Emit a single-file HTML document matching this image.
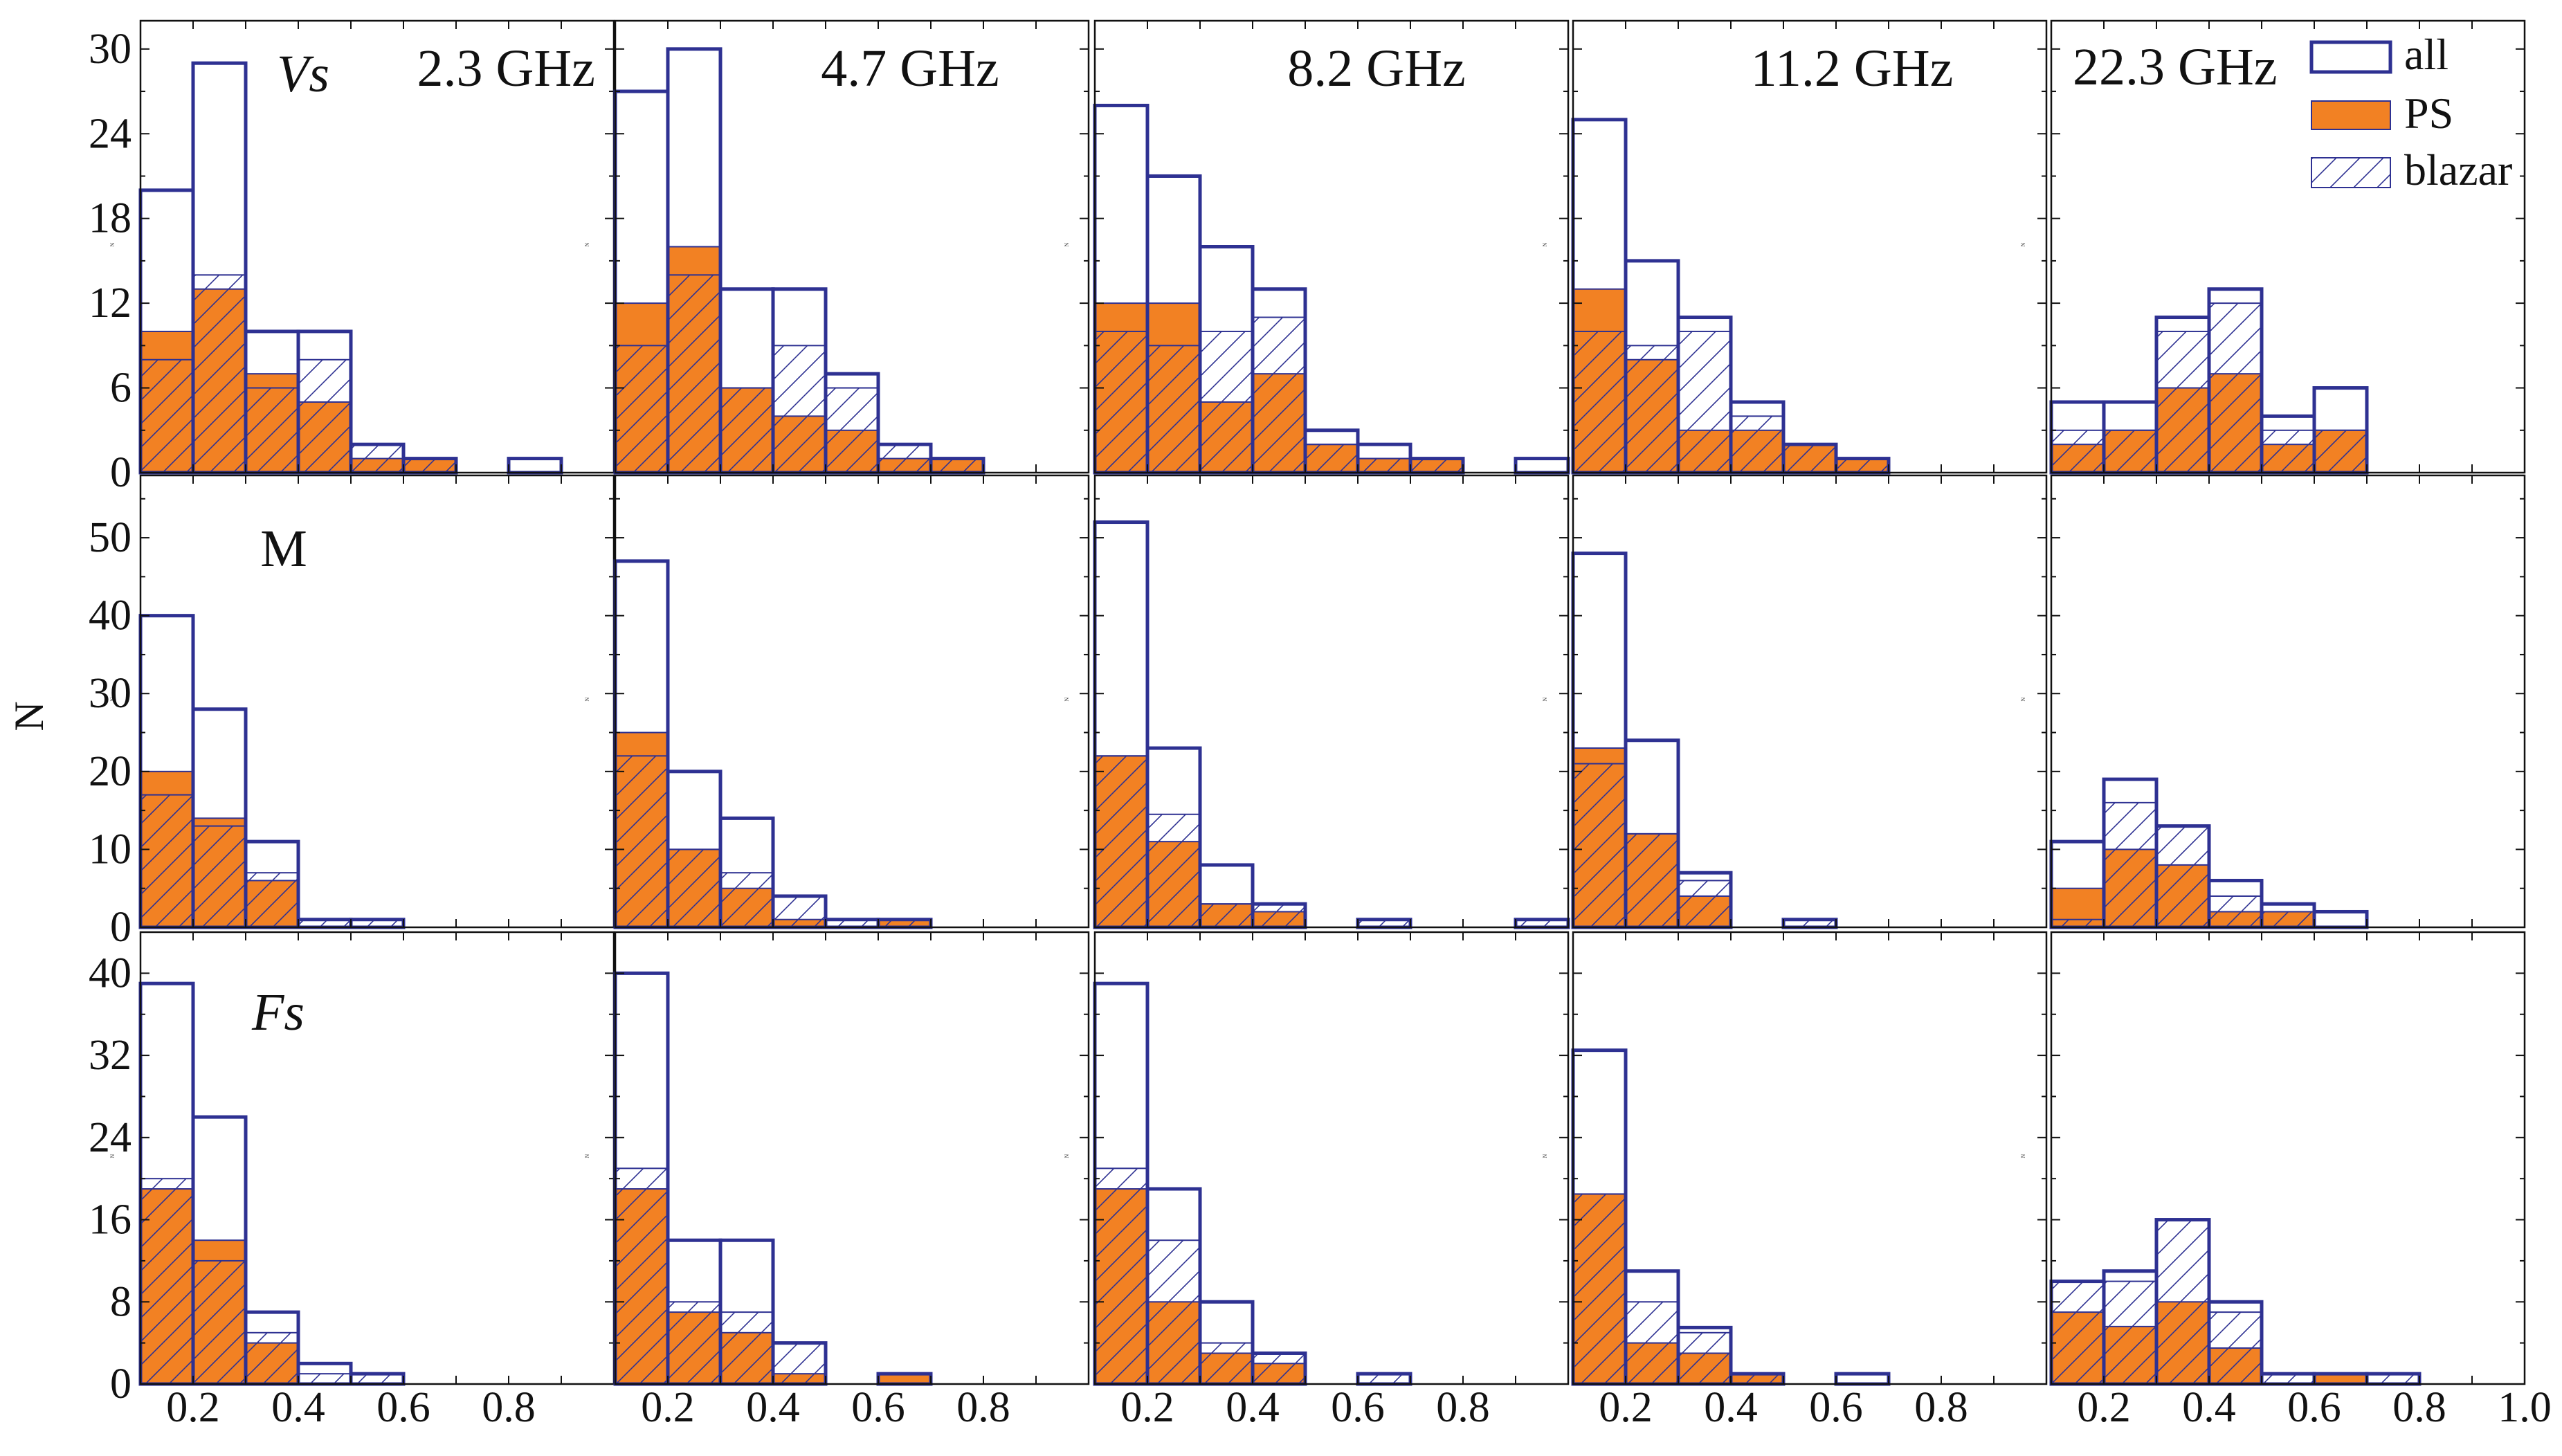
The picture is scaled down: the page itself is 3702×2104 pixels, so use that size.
<!DOCTYPE html>
<html><head><meta charset="utf-8"><style>
html,body{margin:0;padding:0;background:#fff;}
svg{display:block;font-family:"Liberation Serif","DejaVu Serif",serif;}
svg text{font-family:"Liberation Serif","DejaVu Serif",serif !important;}
</style></head><body>
<svg id="chart" width="3702" height="2104" viewBox="0 0 3702 2104" xmlns="http://www.w3.org/2000/svg" font-family="'Liberation Serif', 'DejaVu Serif', serif">
<defs>
<pattern id="hatch" patternUnits="userSpaceOnUse" width="34" height="34">
<line x1="0" y1="34" x2="34" y2="0" stroke="#2e3192" stroke-width="1.6"/>
<line x1="-17" y1="17" x2="17" y2="-17" stroke="#2e3192" stroke-width="1.6"/>
<line x1="17" y1="51" x2="51" y2="17" stroke="#2e3192" stroke-width="1.6"/>
</pattern>
</defs>
</svg>
<script>
const freqs = ["2.3 GHz","4.7 GHz","8.2 GHz","11.2 GHz","22.3 GHz"];
const rowLabels = ["Vs","M","Fs"];
const rowMax = [32, 58, 44];
const rowMajor = [6, 10, 8];
const binStarts = [0.1,0.2,0.3,0.4,0.5,0.6,0.7,0.8,0.9];
const xTickLabels = ["0.2","0.4","0.6","0.8"];
// row 1 (Vs)
const allVs = [[20,29,10,10,2,1,0,1,0],[27,30,13,13,7,2,1,0,0],[26,21,16,13,3,2,1,0,1],[25,15,11,5,2,1,0,0,0],[5,5,11,13,4,6,0,0,0]];
const psVs = [[10,13,7,5,1,1,0,0,0],[12,16,6,4,3,1,1,0,0],[12,12,5,7,2,1,1,0,0],[13,8,3,3,2,1,0,0,0],[2,3,6,7,2,3,0,0,0]];
const blVs = [[8,14,6,8,2,1,0,0,0],[9,14,6,9,6,2,1,0,0],[10,9,10,11,2,1,1,0,0],[10,9,10,4,2,1,0,0,0],[3,3,10,12,3,3,0,0,0]];
// row 2 (M)
const allM = [[40,28,11,1,1,0,0,0,0],[47,20,14,4,1,1,0,0,0],[52,23,8,3,0,1,0,0,1],[48,24,7,0,1,0,0,0,0],[11,19,13,6,3,2,0,0,0]];
const psM = [[20,14,6,0,0,0,0,0,0],[25,10,5,1,0,1,0,0,0],[22,11,3,2,0,0,0,0,0],[23,12,4,0,0,0,0,0,0],[5,10,8,2,2,0,0,0,0]];
const blM = [[17,13,7,1,1,0,0,0,0],[22,10,7,4,1,1,0,0,0],[22,14.5,3,3,0,1,0,0,1],[21,12,6,0,1,0,0,0,0],[1,16,13,4,2,0,0,0,0]];
// row 3 (Fs)
const allFs = [[39,26,7,2,1,0,0,0,0],[40,14,14,4,0,1,0,0,0],[39,19,8,3,0,1,0,0,0],[32.5,11,5.5,1,0,1,0,0,0],[10,11,16,8,1,1,1,0,0]];
const psFs = [[19,14,4,0,0,0,0,0,0],[19,7,5,1,0,1,0,0,0],[19,8,3,2,0,0,0,0,0],[18.5,4,3,1,0,0,0,0,0],[7,5.6,8,3.5,0,1,0,0,0]];
const blFs = [[20,12,5,1,1,0,0,0,0],[21,8,7,4,0,0,0,0,0],[21,14,4,3,0,1,0,0,0],[18.5,8,5,1,0,0,0,0,0],[10,10,16,7,1,0,1,0,0]];

const allRows=[allVs,allM,allFs], psRows=[psVs,psM,psFs], blRows=[blVs,blM,blFs];
const NS="http://www.w3.org/2000/svg";
const svg=document.getElementById('chart');
const lefts=[203,889,1582,2273,2964], W=684, tops=[30,687,1347], H=653;
const BLUE="#2e3192", ORANGE="#f28123";
const FONT="'Liberation Serif', 'DejaVu Serif', serif";
function mk(tag,attrs,parent){const e=document.createElementNS(NS,tag);for(const k in attrs)e.setAttribute(k,attrs[k]);if(tag==='text')e.setAttribute('font-family',FONT);(parent||svg).appendChild(e);return e;}
for(let r=0;r<3;r++){
 for(let c=0;c<5;c++){
  const g=mk('g',{});
  
  
  const L=lefts[c],T=tops[r],B=T+H;
  const xs=v=>L+(v-0.1)/0.9*W;
  const ys=v=>B-v/rowMax[r]*H;
  const bw=xs(0.2)-xs(0.1);
  const A=allRows[r][c],P=psRows[r][c],Bl=blRows[r][c];
  for(let i=0;i<binStarts.length;i++){
   const x=xs(binStarts[i]);
   if(P[i]>0){const e=mk('rect',{x:x,y:ys(P[i]),width:bw,height:B-ys(P[i]),fill:ORANGE,stroke:BLUE,'stroke-width':2},g);
    }
  }
  for(let i=0;i<binStarts.length;i++){
   const x=xs(binStarts[i]);
   if(Bl[i]>0){const e=mk('rect',{x:x,y:ys(Bl[i]),width:bw,height:B-ys(Bl[i]),fill:'url(#hatch)',stroke:BLUE,'stroke-width':2},g);
    }
  }
  for(let i=0;i<binStarts.length;i++){
   const x=xs(binStarts[i]);
   if(A[i]>0){const e=mk('rect',{x:x,y:ys(A[i]),width:bw,height:B-ys(A[i]),fill:'none',stroke:BLUE,'stroke-width':5},g);
    }
  }
  const f=mk('rect',{x:L,y:T,width:W,height:H,fill:'none',stroke:'#111','stroke-width':2.5},g);
  
  const minor=rowMajor[r]/2;
  for(let v=0;v<=rowMax[r];v+=minor){
   const y=ys(v), len=(v%rowMajor[r]===0)?13:7;
   mk('line',{x1:L,y1:y,x2:L+len,y2:y,stroke:'#111','stroke-width':2},g);
   mk('line',{x1:L+W,y1:y,x2:L+W-len,y2:y,stroke:'#111','stroke-width':2},g);
   if(c===0&&v%rowMajor[r]===0){const t=mk('text',{x:190,y:y+20,'font-size':62,'text-anchor':'end',fill:'#111'});t.textContent=v;
    }
  }
  for(let k=2;k<=9;k++){const x=xs(k/10);
   mk('line',{x1:x,y1:B,x2:x,y2:B-12,stroke:'#111','stroke-width':2},g);
   mk('line',{x1:x,y1:T,x2:x,y2:T+12,stroke:'#111','stroke-width':2},g);}
  const tn=mk('text',{x:L-38,y:T+H/2,'font-size':8,fill:'#333',transform:'rotate(-90 '+(L-38)+' '+(T+H/2)+')'},g);tn.textContent='N';
  if(r===2){
   const labs=xTickLabels.slice(); if(c===4)labs.push("1.0");
   labs.forEach(s=>{const t=mk('text',{x:xs(parseFloat(s)),y:2054,'font-size':62,'text-anchor':'middle',fill:'#111'});t.textContent=s;
    });
  }
  if(r===0){
   const cx=[null,1315,1989,2676,null][c];
   let t;
   if(c===0) t=mk('text',{x:860,y:124,'font-size':76,'text-anchor':'end',fill:'#111'});
   else if(c===4) t=mk('text',{x:2995,y:122,'font-size':76,fill:'#111'});
   else t=mk('text',{x:cx,y:124,'font-size':76,'text-anchor':'middle',fill:'#111'});
   t.textContent=freqs[c];
   
  }
 }
}
function lab(txt,x,y,italic,name){const t=mk('text',{x:x,y:y,'font-size':76,'text-anchor':'middle',fill:'#111','font-style':italic?'italic':'normal'});t.textContent=txt;
 }
lab('Vs',438,132,true,'row-label-vs');
lab('M',410,818,false,'row-label-m');
lab('Fs',402,1488,true,'row-label-fs');
const yt=mk('text',{x:62,y:1035,'font-size':60,'text-anchor':'middle',fill:'#111',transform:'rotate(-90 62 1035)'});yt.textContent='N';

const lg=mk('g',{});
const e1=mk('rect',{x:3340,y:61,width:114,height:43,fill:'#fff',stroke:BLUE,'stroke-width':5},lg);

const e2=mk('rect',{x:3340,y:146,width:114,height:41,fill:ORANGE,stroke:BLUE,'stroke-width':2},lg);

const e3=mk('rect',{x:3340,y:228,width:114,height:43,fill:'url(#hatch)',stroke:BLUE,'stroke-width':2},lg);

[['all',100],['PS',185],['blazar',267]].forEach(a=>{const t=mk('text',{x:3474,y:a[1],'font-size':64,fill:'#111'},lg);t.textContent=a[0];
 });
</script>
</body></html>
